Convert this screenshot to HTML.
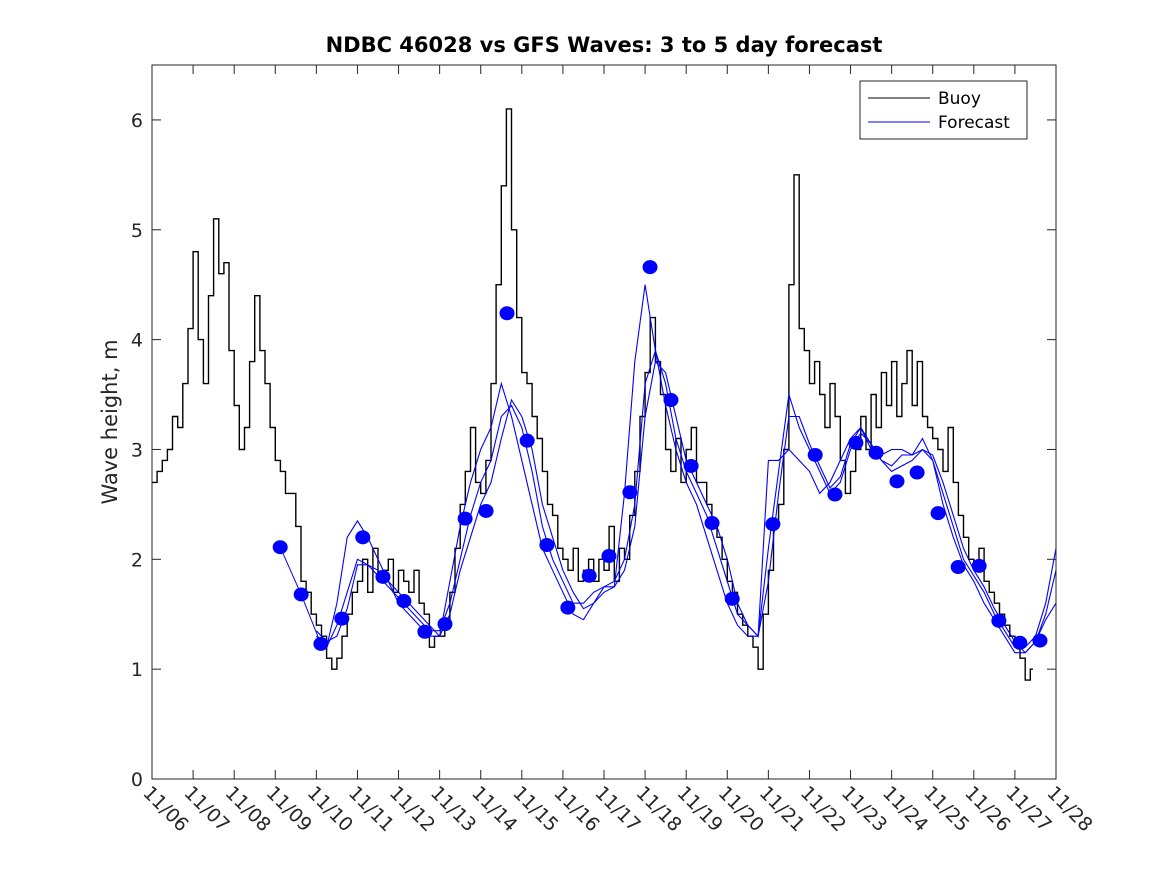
<!DOCTYPE html>
<html><head><meta charset="utf-8"><style>
body{margin:0;background:#fff}
svg{display:block;font-family:"DejaVu Sans","Liberation Sans",sans-serif}
</style></head><body>
<svg id="chart" width="1167" height="875" viewBox="0 0 1167 875">
<rect width="1167" height="875" fill="#fff"/>
<text x="604" y="52" text-anchor="middle" font-size="21" font-weight="bold">NDBC 46028 vs GFS Waves: 3 to 5 day forecast</text>
<text transform="translate(117,422) rotate(-90)" text-anchor="middle" font-size="21" fill="#262626">Wave height, m</text>
<g id="grid"></g>
<g id="series"></g>
<rect x="152" y="65" width="904" height="714" fill="none" stroke="#262626" stroke-width="1"/>
<g>
<rect x="860" y="81" width="167" height="58" fill="#fff" stroke="#262626"/>
<line x1="868" y1="98" x2="930" y2="98" stroke="#000"/>
<text x="938" y="104" font-size="17">Buoy</text>
<line x1="868" y1="122" x2="930" y2="122" stroke="#0000ff"/>
<text x="938" y="128" font-size="17">Forecast</text>
</g>
</svg>
<script>
const xTickLabels=["11/06","11/07","11/08","11/09","11/10","11/11","11/12","11/13","11/14","11/15","11/16","11/17","11/18","11/19","11/20","11/21","11/22","11/23","11/24","11/25","11/26","11/27","11/28"];
const yTicks=[0,1,2,3,4,5,6];
const buoyStart=0, buoyStep=0.125;
const buoy=[2.7,2.8,2.9,3.0,3.3,3.2,3.6,4.1,
4.8,4.0,3.6,4.4,5.1,4.6,4.7,3.9,
3.4,3.0,3.2,3.8,4.4,3.9,3.6,3.2,
2.9,2.8,2.6,2.6,2.3,1.8,1.7,1.5,
1.4,1.3,1.1,1.0,1.1,1.3,1.5,1.7,
1.8,2.0,1.7,2.1,1.8,1.9,2.0,1.7,
1.9,1.8,1.7,1.9,1.6,1.5,1.2,1.3,
1.3,1.4,1.7,2.1,2.5,2.8,3.2,2.7,
2.6,2.9,3.6,4.5,5.4,6.1,5.0,4.2,
3.7,3.6,3.3,3.1,2.8,2.5,2.4,2.1,
2.0,1.9,2.1,1.8,1.9,2.0,1.8,2.0,
1.9,2.3,1.8,2.1,2.0,2.4,2.8,3.3,
3.7,4.2,3.8,3.5,3.0,2.8,3.1,2.7,
3.0,3.2,2.7,2.7,2.5,2.3,2.2,2.0,
1.8,1.7,1.5,1.4,1.3,1.2,1.0,1.5,
1.9,2.3,2.5,3.0,4.5,5.5,4.1,3.9,
3.6,3.8,3.5,3.2,3.6,3.3,2.9,2.6,
2.8,3.0,3.3,3.0,3.5,3.2,3.7,3.4,
3.8,3.3,3.6,3.9,3.4,3.8,3.3,3.2,
3.1,3.0,2.8,3.2,2.7,2.4,2.2,2.0,
1.9,2.1,1.8,1.7,1.6,1.5,1.4,1.3,
1.2,1.1,0.9,1.0];
const fcStart=4.0, fcStep=0.25;
const forecastA=[1.3,1.2,1.4,1.7,2.0,1.95,1.85,1.75,1.65,1.55,1.45,1.35,1.35,1.6,2.0,2.4,2.7,2.9,3.3,3.4,3.2,2.8,2.3,2.0,1.8,1.6,1.6,1.7,1.75,1.8,2.0,2.5,3.6,3.9,3.6,3.1,2.8,2.6,2.4,2.1,1.8,1.5,1.4,1.3,2.1,2.8,3.5,3.2,3.0,2.8,2.6,2.7,3.0,3.15,3.05,2.9,2.85,2.95,2.95,3.0,2.9,2.6,2.3,2.0,1.85,1.7,1.5,1.35,1.2,1.2,1.3,1.6,2.1];
const forecastB=[1.25,1.2,1.6,2.2,2.35,2.2,2.0,1.8,1.6,1.5,1.4,1.3,1.3,1.8,2.3,2.7,3.0,3.2,3.6,3.3,2.9,2.5,2.1,1.9,1.7,1.5,1.45,1.6,1.75,1.75,2.6,3.8,4.5,3.9,3.4,3.0,2.7,2.5,2.2,1.9,1.6,1.4,1.3,1.3,2.9,2.9,3.0,2.9,2.8,2.6,2.7,2.9,3.1,3.2,3.0,2.95,3.0,3.0,2.95,3.1,2.9,2.5,2.2,1.95,1.8,1.6,1.45,1.3,1.15,1.15,1.25,1.5,1.9];
const forecastC=[1.35,1.25,1.3,1.55,1.95,1.95,1.9,1.8,1.7,1.6,1.5,1.4,1.3,1.5,1.9,2.2,2.5,2.7,3.1,3.45,3.3,3.0,2.5,2.2,1.9,1.7,1.55,1.6,1.7,1.75,1.9,2.3,3.3,3.8,3.7,3.3,2.9,2.7,2.5,2.3,2.0,1.6,1.4,1.3,1.8,2.6,3.3,3.3,3.05,2.85,2.65,2.75,3.05,3.2,3.05,2.9,2.8,2.85,2.9,3.0,2.95,2.7,2.4,2.1,1.9,1.75,1.55,1.4,1.25,1.15,1.25,1.45,1.6];
const dotDays=[3.12,3.63,4.11,4.62,5.13,5.62,6.13,6.64,7.13,7.62,8.13,8.64,9.13,9.61,10.12,10.64,11.12,11.63,12.12,12.63,13.12,13.63,14.12,15.11,16.14,16.62,17.13,17.62,18.13,18.62,19.13,19.62,20.13,20.61,21.12,21.61];
const dotValues=[2.11,1.68,1.23,1.46,2.20,1.84,1.62,1.34,1.41,2.37,2.44,4.24,3.08,2.13,1.56,1.85,2.03,2.61,4.66,3.45,2.85,2.33,1.64,2.32,2.95,2.59,3.06,2.97,2.71,2.79,2.42,1.93,1.94,1.44,1.24,1.26];

const NS="http://www.w3.org/2000/svg";
const X0=152,X1=1056,Y0=779,Y1=65,DMAX=22,VMAX=6.5;
const xs=d=>X0+(X1-X0)*d/DMAX;
const ys=v=>Y0-(Y0-Y1)*v/VMAX;
const grid=document.getElementById('grid'), series=document.getElementById('series');
function mk(tag,attrs,parent){const e=document.createElementNS(NS,tag);for(const k in attrs)e.setAttribute(k,attrs[k]);parent.appendChild(e);return e;}
xTickLabels.forEach((lab,i)=>{
  const x=xs(i);
  const t1=mk('line',{x1:x,y1:Y0,x2:x,y2:Y0-9,stroke:'#262626'},grid);
  
  
  const t2=mk('line',{x1:x,y1:Y1,x2:x,y2:Y1+9,stroke:'#262626'},grid);
  
  
  const tx=mk('text',{transform:`translate(${x-10},${Y0+15}) rotate(45)`,'font-size':19,fill:'#262626'},grid);
  tx.textContent=lab;
  
  
});
yTicks.forEach(v=>{
  const y=ys(v);
  const a=mk('line',{x1:X0,y1:y,x2:X0+9,y2:y,stroke:'#262626'},grid);
  
  
  const b=mk('line',{x1:X1,y1:y,x2:X1-9,y2:y,stroke:'#262626'},grid);
  
  
  const t=mk('text',{x:X0-9,y:y+7,'text-anchor':'end','font-size':19,fill:'#262626'},grid);
  t.textContent=v;
  
  
});
// buoy as jagged steps
let bp=[];
buoy.forEach((v,i)=>{const d=buoyStart+i*buoyStep;
  if(i>0)bp.push(xs(d).toFixed(1)+','+ys(buoy[i-1]).toFixed(1));
  bp.push(xs(d).toFixed(1)+','+ys(v).toFixed(1));
  bp.push(xs(d+buoyStep*0.5).toFixed(1)+','+ys(v).toFixed(1));
});
const bl=mk('polyline',{points:bp.join(' '),fill:'none',stroke:'#000','stroke-width':1.4},series);


[forecastA,forecastB,forecastC].forEach((arr,k)=>{
  const pts=arr.map((v,i)=>xs(fcStart+i*fcStep).toFixed(1)+','+ys(v).toFixed(1)).join(' ');
  const pl=mk('polyline',{points:pts,fill:'none',stroke:'#0000ff','stroke-width':1.1},series);
  
  
});
const fl=mk('polyline',{points:[0,1,2].map(i=>xs(dotDays[i])+','+ys(dotValues[i])).join(' '),fill:'none',stroke:'#0000ff'},series);


dotDays.forEach((d,i)=>{
  const c=mk('ellipse',{cx:xs(d),cy:ys(dotValues[i]),rx:7.5,ry:7,fill:'#0000ff'},series);
  
  
});
</script>
</body></html>
